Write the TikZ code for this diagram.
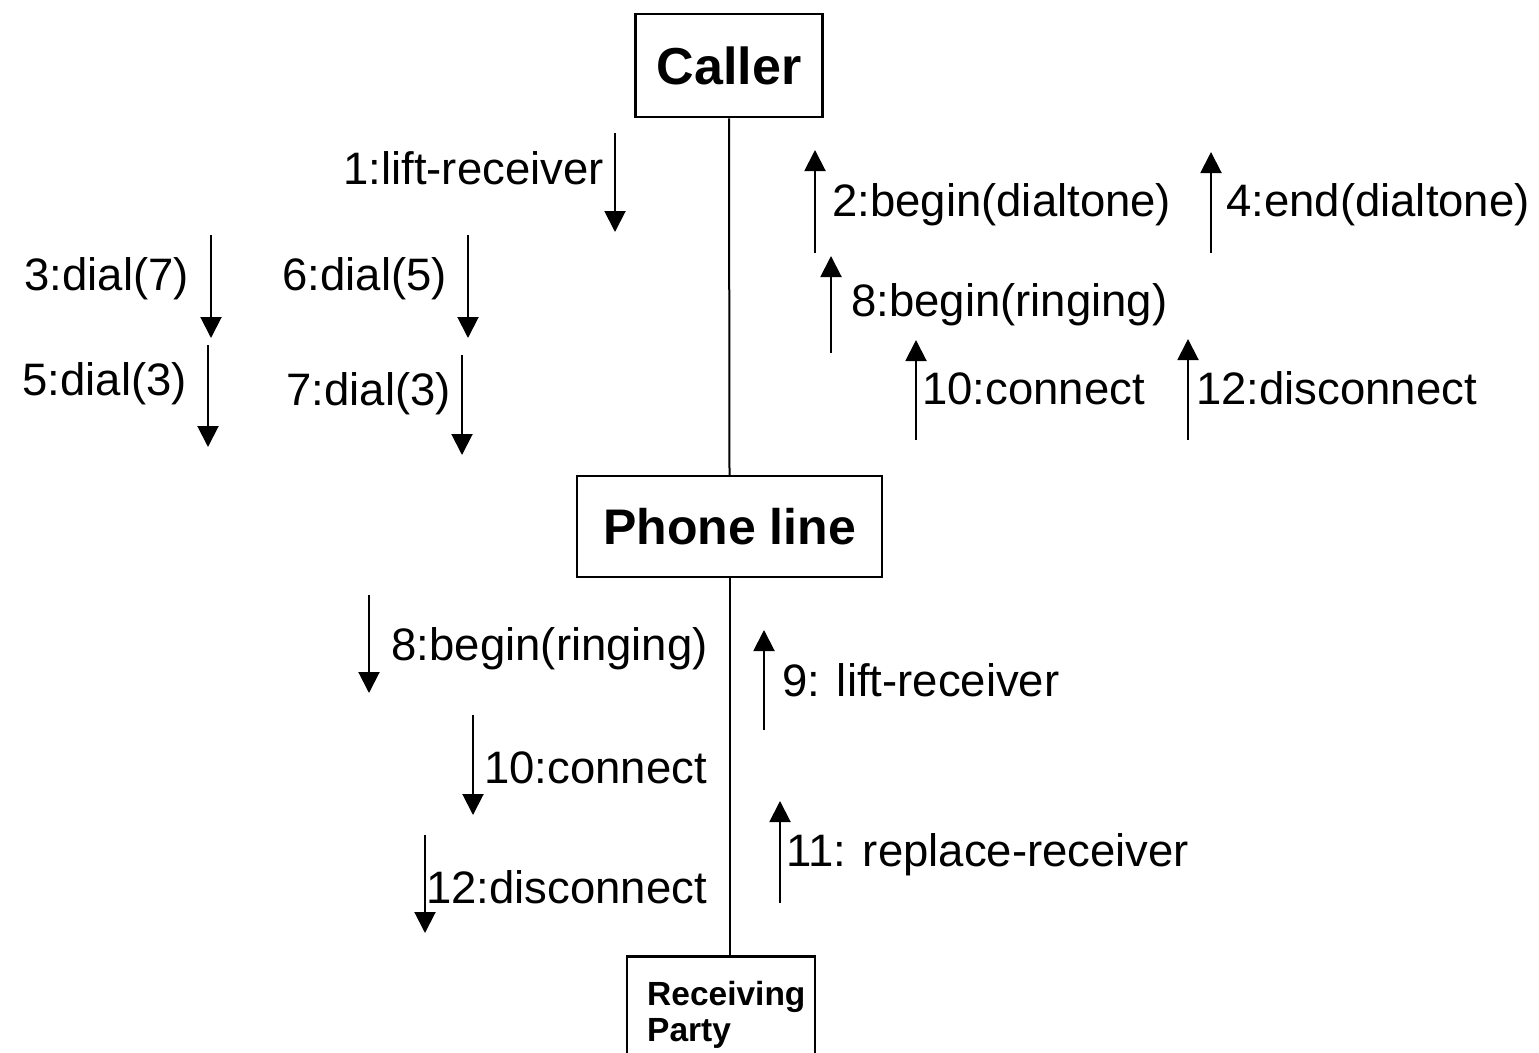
\documentclass[tikz,border=0pt]{standalone}
\usepackage{fontspec}
\setmainfont{Liberation Sans}
\usetikzlibrary{arrows.meta}
\begin{document}
\begin{tikzpicture}[x=1pt,y=-1pt,
  objbox/.style={draw, line width=2.5pt, inner sep=0pt},
  msg/.style={font=\fontsize{45.5}{50}\selectfont, inner sep=0pt},
  arr/.style={-{Triangle[length=21pt,width=21pt]}, line width=2pt},
  life/.style={line width=2pt}]
\useasboundingbox (0,0) rectangle (1539,1052);

% objects
\node[objbox, minimum width=187pt, minimum height=103pt, font=\fontsize{52}{60}\selectfont\bfseries] (caller) at (729,65.5) {Caller};
\node[objbox, minimum width=305pt, minimum height=101pt, font=\fontsize{50}{58}\selectfont\bfseries] (phone) at (729.5,526.5) {Phone line};
\node[objbox, minimum width=188pt, minimum height=120pt, anchor=north] (recv) at (721,955) {};
\node[font=\fontsize{33.5}{40}\selectfont\bfseries, inner sep=0pt, anchor=base west] (recvt1) at (647,1005) {Receiving};
\node[font=\fontsize{33.5}{40}\selectfont\bfseries, inner sep=0pt, anchor=base west] (recvt2) at (647,1041) {Party};

% lifelines
\draw[life] (caller.south) -- (phone.north);
\draw[life] (phone.south) -- (phone.south |- recv.north);

% upper left messages (Caller -> Phone line)
\coordinate (a1s) at (615,133); \coordinate (a1e) at (615,232);
\draw[arr] (a1s) -- (a1e);
\node[msg, anchor=base east] (l1) at (604,184) {1:lift-receiver};

\coordinate (a3s) at (211,235); \coordinate (a3e) at (211,338);
\draw[arr] (a3s) -- (a3e);
\node[msg, anchor=base east] (l3) at (189,290) {3:dial(7)};

\coordinate (a6s) at (468,235); \coordinate (a6e) at (468,338);
\draw[arr] (a6s) -- (a6e);
\node[msg, anchor=base east] (l6) at (447,290) {6:dial(5)};

\coordinate (a5s) at (208,345); \coordinate (a5e) at (208,447);
\draw[arr] (a5s) -- (a5e);
\node[msg, anchor=base east] (l5) at (187,395) {5:dial(3)};

\coordinate (a7s) at (462,355); \coordinate (a7e) at (462,455);
\draw[arr] (a7s) -- (a7e);
\node[msg, anchor=base east] (l7) at (451,405) {7:dial(3)};

% upper right messages (Phone line -> Caller)
\coordinate (a2s) at (815,253); \coordinate (a2e) at (815,150);
\draw[arr] (a2s) -- (a2e);
\node[msg, anchor=base west] (l2) at (832,216) {2:begin(dialtone)};

\coordinate (a4s) at (1211,253); \coordinate (a4e) at (1211,152);
\draw[arr] (a4s) -- (a4e);
\node[msg, anchor=base west] (l4) at (1226,216) {4:end(dialtone)};

\coordinate (a8s) at (831,353); \coordinate (a8e) at (831,256);
\draw[arr] (a8s) -- (a8e);
\node[msg, anchor=base west] (l8) at (851,316) {8:begin(ringing)};

\coordinate (a10s) at (916,440); \coordinate (a10e) at (916,340);
\draw[arr] (a10s) -- (a10e);
\node[msg, anchor=base west] (l10) at (922,404) {10:connect};

\coordinate (a12s) at (1188,440); \coordinate (a12e) at (1188,339);
\draw[arr] (a12s) -- (a12e);
\node[msg, anchor=base west] (l12) at (1196,404) {12:disconnect};

% lower left messages (Phone line -> Receiving Party)
\coordinate (b8s) at (369,595); \coordinate (b8e) at (369,693);
\draw[arr] (b8s) -- (b8e);
\node[msg, anchor=base east] (m8) at (708,660) {8:begin(ringing)};

\coordinate (b10s) at (473,715); \coordinate (b10e) at (473,815);
\draw[arr] (b10s) -- (b10e);
\node[msg, anchor=base east] (m10) at (707,783) {10:connect};

\coordinate (b12s) at (425,835); \coordinate (b12e) at (425,933);
\draw[arr] (b12s) -- (b12e);
\node[msg, anchor=base east] (m12) at (707,903) {12:disconnect};

% lower right messages (Receiving Party -> Phone line)
\coordinate (b9s) at (764,730); \coordinate (b9e) at (764,630);
\draw[arr] (b9s) -- (b9e);
\node[msg, anchor=base west] (m9) at (782,696) {9: lift-receiver};

\coordinate (b11s) at (780,903); \coordinate (b11e) at (780,801);
\draw[arr] (b11s) -- (b11e);
\node[msg, anchor=base west] (m11) at (786,866) {11: replace-receiver};
\end{tikzpicture}
\end{document}
